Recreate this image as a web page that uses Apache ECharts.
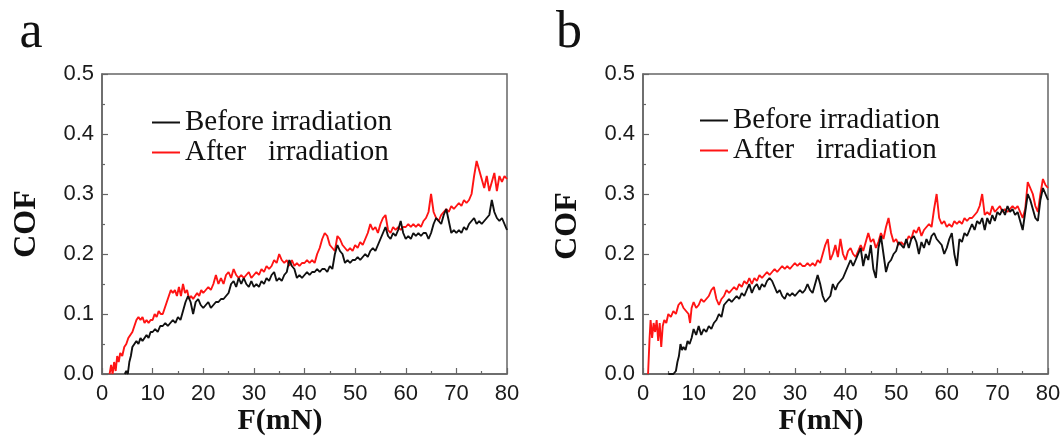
<!DOCTYPE html>
<html>
<head>
<meta charset="utf-8">
<script src="https://cdn.jsdelivr.net/npm/echarts/dist/echarts.min.js"></script>
<style>html,body{margin:0;padding:0;background:#fff;}#c{width:1064px;height:439px;}</style>
</head>
<body>
<div id="c"></div>
<script>
var xTicks = [0,10,20,30,40,50,60,70,80];
var yTicks = [0.0,0.1,0.2,0.3,0.4,0.5];
var seriesNames = ['Before irradiation','After   irradiation'];
var panelLabels = ['a','b'];
var xTitle = 'F(mN)';
var yTitle = 'COF';

var aAfter = [[1.5,0],[1.8,0.015],[2.1,0.0],[2.4,0.02],[2.7,0.005],[3.0,0.03],[3.3,0.02],[3.6,0.035],[4.0,0.03],[4.4,0.045],[4.8,0.05],[5.2,0.06],[5.6,0.065],[6.0,0.07],[6.4,0.08],[6.8,0.09],[7.2,0.095],[7.6,0.09],[8.0,0.095],[8.4,0.085],[8.8,0.09],[9.2,0.085],[9.6,0.09],[10.0,0.09],[10.4,0.1],[10.8,0.095],[11.2,0.105],[11.6,0.1],[12.0,0.1],[12.4,0.11],[12.8,0.12],[13.2,0.13],[13.6,0.14],[14.0,0.135],[14.4,0.14],[14.8,0.13],[15.2,0.145],[15.6,0.13],[16.0,0.15],[16.4,0.135],[16.8,0.14],[17.2,0.125],[17.6,0.13],[18.0,0.125],[18.4,0.13],[18.8,0.135],[19.2,0.13],[19.6,0.14],[20.0,0.135],[20.5,0.14],[21.0,0.145],[21.5,0.14],[22.0,0.15],[22.5,0.165],[23.0,0.15],[23.5,0.16],[24.0,0.15],[24.5,0.165],[25.0,0.17],[25.5,0.16],[26.0,0.175],[26.5,0.165],[27.0,0.16],[27.5,0.165],[28.0,0.16],[28.5,0.165],[29.0,0.17],[29.5,0.16],[30.0,0.165],[30.5,0.17],[31.0,0.165],[31.5,0.175],[32.0,0.17],[32.5,0.18],[33.0,0.175],[33.5,0.18],[34.0,0.19],[34.5,0.185],[35.0,0.2],[35.5,0.19],[36.0,0.185],[36.5,0.19],[37.0,0.18],[37.5,0.19],[38.0,0.18],[38.5,0.185],[39.0,0.18],[39.5,0.185],[40.0,0.185],[40.5,0.19],[41.0,0.185],[41.5,0.19],[42.0,0.185],[42.5,0.2],[43.0,0.21],[43.5,0.225],[44.0,0.235],[44.5,0.23],[45.0,0.215],[45.5,0.21],[46.0,0.205],[46.5,0.23],[47.0,0.225],[47.5,0.215],[48.0,0.21],[48.5,0.205],[49.0,0.21],[49.5,0.205],[50.0,0.215],[50.5,0.21],[51.0,0.22],[51.5,0.215],[52.0,0.225],[52.5,0.235],[53.0,0.25],[53.5,0.24],[54.0,0.245],[54.5,0.235],[55.0,0.25],[55.5,0.26],[56.0,0.265],[56.5,0.24],[57.0,0.235],[57.5,0.245],[58.0,0.24],[58.5,0.245],[59.0,0.24],[59.5,0.245],[60.0,0.245],[60.5,0.25],[61.0,0.245],[61.5,0.25],[62.0,0.245],[62.5,0.25],[63.0,0.245],[63.5,0.255],[64.0,0.26],[64.5,0.27],[65.0,0.3],[65.5,0.27],[66.0,0.26],[66.5,0.255],[67.0,0.265],[67.5,0.27],[68.0,0.275],[68.5,0.27],[69.0,0.28],[69.5,0.275],[70.0,0.28],[70.5,0.285],[71.0,0.28],[71.5,0.29],[72.0,0.285],[72.5,0.29],[73.0,0.3],[73.5,0.33],[74.0,0.355],[74.5,0.34],[75.0,0.325],[75.5,0.31],[76.0,0.33],[76.5,0.305],[77.0,0.32],[77.5,0.335],[78.0,0.305],[78.5,0.33],[79.0,0.32],[79.5,0.33],[80.0,0.325]];

var aBefore = [[4.5,0],[4.8,0.005],[5.1,0.0],[5.4,0.02],[5.7,0.03],[6.0,0.045],[6.4,0.05],[6.8,0.055],[7.2,0.05],[7.6,0.06],[8.0,0.055],[8.4,0.06],[8.8,0.065],[9.2,0.06],[9.6,0.07],[10.0,0.07],[10.5,0.075],[11.0,0.07],[11.5,0.08],[12.0,0.08],[12.5,0.085],[13.0,0.08],[13.5,0.085],[14.0,0.09],[14.5,0.085],[15.0,0.095],[15.5,0.09],[16.0,0.105],[16.5,0.12],[17.0,0.13],[17.5,0.12],[18.0,0.1],[18.5,0.12],[19.0,0.125],[19.5,0.115],[20.0,0.11],[20.5,0.115],[21.0,0.12],[21.5,0.11],[22.0,0.115],[22.5,0.12],[23.0,0.12],[23.5,0.125],[24.0,0.125],[24.5,0.13],[25.0,0.135],[25.5,0.15],[26.0,0.155],[26.5,0.145],[27.0,0.16],[27.5,0.15],[28.0,0.16],[28.5,0.15],[29.0,0.145],[29.5,0.155],[30.0,0.145],[30.5,0.15],[31.0,0.145],[31.5,0.155],[32.0,0.15],[32.5,0.16],[33.0,0.155],[33.5,0.165],[34.0,0.17],[34.5,0.155],[35.0,0.16],[35.5,0.155],[36.0,0.165],[36.5,0.17],[37.0,0.19],[37.5,0.18],[38.0,0.175],[38.5,0.16],[39.0,0.165],[39.5,0.16],[40.0,0.165],[40.5,0.17],[41.0,0.165],[41.5,0.17],[42.0,0.17],[42.5,0.175],[43.0,0.17],[43.5,0.175],[44.0,0.175],[44.5,0.17],[45.0,0.18],[45.5,0.175],[46.0,0.2],[46.5,0.215],[47.0,0.205],[47.5,0.2],[48.0,0.185],[48.5,0.19],[49.0,0.185],[49.5,0.19],[50.0,0.19],[50.5,0.195],[51.0,0.19],[51.5,0.195],[52.0,0.2],[52.5,0.195],[53.0,0.205],[53.5,0.21],[54.0,0.205],[54.5,0.215],[55.0,0.225],[55.5,0.235],[56.0,0.245],[56.5,0.23],[57.0,0.225],[57.5,0.235],[58.0,0.23],[58.5,0.24],[59.0,0.255],[59.5,0.235],[60.0,0.225],[60.5,0.23],[61.0,0.225],[61.5,0.235],[62.0,0.23],[62.5,0.235],[63.0,0.23],[63.5,0.235],[64.0,0.235],[64.5,0.225],[65.0,0.235],[65.5,0.25],[66.0,0.26],[66.5,0.255],[67.0,0.25],[67.5,0.265],[68.0,0.275],[68.5,0.255],[69.0,0.235],[69.5,0.24],[70.0,0.235],[70.5,0.24],[71.0,0.235],[71.5,0.245],[72.0,0.24],[72.5,0.25],[73.0,0.255],[73.5,0.26],[74.0,0.25],[74.5,0.255],[75.0,0.25],[75.5,0.255],[76.0,0.26],[76.5,0.265],[77.0,0.29],[77.5,0.27],[78.0,0.26],[78.5,0.255],[79.0,0.26],[79.5,0.25],[80.0,0.24]];

var bAfter = [[1.0,0],[1.3,0.06],[1.5,0.09],[1.8,0.06],[2.1,0.085],[2.4,0.07],[2.7,0.09],[3.0,0.055],[3.3,0.085],[3.6,0.045],[3.9,0.08],[4.2,0.09],[4.6,0.085],[5.0,0.1],[5.5,0.095],[6.0,0.105],[6.5,0.1],[7.0,0.115],[7.5,0.12],[8.0,0.11],[8.5,0.105],[9.0,0.1],[9.3,0.085],[9.6,0.11],[10.0,0.12],[10.5,0.11],[11.0,0.115],[11.5,0.125],[12.0,0.12],[12.5,0.125],[13.0,0.13],[13.5,0.14],[14.0,0.145],[14.5,0.125],[15.0,0.115],[15.5,0.125],[16.0,0.13],[16.5,0.14],[17.0,0.135],[17.5,0.14],[18.0,0.145],[18.5,0.14],[19.0,0.15],[19.5,0.145],[20.0,0.155],[20.5,0.15],[21.0,0.16],[21.5,0.15],[22.0,0.16],[22.5,0.155],[23.0,0.165],[23.5,0.16],[24.0,0.165],[24.5,0.17],[25.0,0.165],[25.5,0.17],[26.0,0.175],[26.5,0.17],[27.0,0.175],[27.5,0.18],[28.0,0.175],[28.5,0.18],[29.0,0.175],[29.5,0.18],[30.0,0.185],[30.5,0.18],[31.0,0.185],[31.5,0.18],[32.0,0.18],[32.5,0.185],[33.0,0.18],[33.5,0.185],[34.0,0.18],[34.5,0.19],[35.0,0.185],[35.5,0.2],[36.0,0.215],[36.5,0.225],[37.0,0.19],[37.5,0.2],[38.0,0.215],[38.5,0.195],[39.0,0.225],[39.5,0.2],[40.0,0.19],[40.5,0.205],[41.0,0.21],[41.5,0.2],[42.0,0.195],[42.5,0.205],[43.0,0.215],[43.5,0.205],[44.0,0.22],[44.5,0.235],[45.0,0.22],[45.5,0.225],[46.0,0.21],[46.5,0.22],[47.0,0.235],[47.5,0.225],[48.0,0.245],[48.5,0.26],[49.0,0.235],[49.5,0.22],[50.0,0.225],[50.5,0.215],[51.0,0.22],[51.5,0.215],[52.0,0.22],[52.5,0.23],[53.0,0.225],[53.5,0.24],[54.0,0.235],[54.5,0.245],[55.0,0.23],[55.5,0.24],[56.0,0.245],[56.5,0.25],[57.0,0.245],[57.5,0.275],[58.0,0.3],[58.5,0.26],[59.0,0.25],[59.5,0.255],[60.0,0.245],[60.5,0.25],[61.0,0.245],[61.5,0.255],[62.0,0.25],[62.5,0.255],[63.0,0.25],[63.5,0.26],[64.0,0.255],[64.5,0.26],[65.0,0.26],[65.5,0.265],[66.0,0.27],[66.5,0.28],[67.0,0.3],[67.5,0.265],[68.0,0.27],[68.5,0.265],[69.0,0.28],[69.5,0.27],[70.0,0.275],[70.5,0.28],[71.0,0.27],[71.5,0.275],[72.0,0.27],[72.5,0.275],[73.0,0.28],[73.5,0.275],[74.0,0.28],[74.5,0.27],[75.0,0.26],[75.5,0.275],[76.0,0.32],[76.5,0.31],[77.0,0.3],[77.5,0.28],[78.0,0.27],[78.5,0.3],[79.0,0.325],[79.5,0.315],[80.0,0.31]];

var bBefore = [[5.0,0],[5.5,0.0],[6.0,0.0],[6.5,0.005],[6.8,0.02],[7.1,0.03],[7.4,0.05],[7.7,0.04],[8.0,0.045],[8.4,0.04],[8.8,0.055],[9.2,0.05],[9.6,0.06],[10.0,0.075],[10.5,0.065],[11.0,0.08],[11.5,0.065],[12.0,0.075],[12.5,0.07],[13.0,0.08],[13.5,0.075],[14.0,0.085],[14.5,0.09],[15.0,0.1],[15.5,0.095],[16.0,0.115],[16.5,0.12],[17.0,0.125],[17.5,0.12],[18.0,0.125],[18.5,0.13],[19.0,0.125],[19.5,0.135],[20.0,0.13],[20.5,0.14],[21.0,0.15],[21.5,0.135],[22.0,0.145],[22.5,0.15],[23.0,0.14],[23.5,0.15],[24.0,0.145],[24.5,0.155],[25.0,0.16],[25.5,0.155],[26.0,0.145],[26.5,0.135],[27.0,0.14],[27.5,0.13],[28.0,0.125],[28.5,0.135],[29.0,0.13],[29.5,0.135],[30.0,0.13],[30.5,0.135],[31.0,0.14],[31.5,0.135],[32.0,0.14],[32.5,0.15],[33.0,0.14],[33.5,0.135],[34.0,0.15],[34.5,0.165],[35.0,0.15],[35.5,0.13],[36.0,0.12],[36.5,0.125],[37.0,0.13],[37.5,0.15],[38.0,0.14],[38.5,0.15],[39.0,0.155],[39.5,0.16],[40.0,0.17],[40.5,0.18],[41.0,0.19],[41.5,0.18],[42.0,0.19],[42.5,0.2],[43.0,0.21],[43.5,0.18],[44.0,0.2],[44.5,0.19],[45.0,0.215],[45.5,0.175],[46.0,0.16],[46.5,0.21],[47.0,0.23],[47.5,0.2],[48.0,0.17],[48.5,0.185],[49.0,0.19],[49.5,0.2],[50.0,0.205],[50.5,0.22],[51.0,0.215],[51.5,0.21],[52.0,0.225],[52.5,0.21],[53.0,0.225],[53.5,0.23],[54.0,0.22],[54.5,0.2],[55.0,0.22],[55.5,0.21],[56.0,0.225],[56.5,0.215],[57.0,0.23],[57.5,0.235],[58.0,0.225],[58.5,0.22],[59.0,0.215],[59.5,0.2],[60.0,0.21],[60.5,0.225],[61.0,0.235],[61.5,0.2],[62.0,0.18],[62.5,0.225],[63.0,0.22],[63.5,0.235],[64.0,0.23],[64.5,0.24],[65.0,0.25],[65.5,0.24],[66.0,0.255],[66.5,0.25],[67.0,0.26],[67.5,0.24],[68.0,0.26],[68.5,0.25],[69.0,0.265],[69.5,0.255],[70.0,0.27],[70.5,0.265],[71.0,0.275],[71.5,0.265],[72.0,0.28],[72.5,0.27],[73.0,0.275],[73.5,0.265],[74.0,0.27],[74.5,0.255],[75.0,0.24],[75.5,0.27],[76.0,0.3],[76.5,0.29],[77.0,0.275],[77.5,0.26],[78.0,0.255],[78.5,0.29],[79.0,0.31],[79.5,0.3],[80.0,0.29]];

var SERIF = '"Liberation Serif", "Times New Roman", serif';
var SANS = '"Liberation Sans", Arial, sans-serif';
var AXC = '#666';

function xAxis(gi){
  return {type:'value', gridIndex:gi, min:xTicks[0], max:xTicks[xTicks.length-1], interval:10,
    axisLine:{show:true, onZero:false, lineStyle:{color:AXC, width:1.5}},
    axisTick:{show:true, inside:true, length:6, lineStyle:{color:AXC, width:1.2}},
    minorTick:{show:true, splitNumber:2, length:3, lineStyle:{color:AXC, width:1.2}},
    splitLine:{show:false},
    axisLabel:{fontFamily:SANS, fontSize:22, color:'#1a1a1a', margin:9}};
}
function yAxis(gi){
  return {type:'value', gridIndex:gi, min:yTicks[0], max:yTicks[yTicks.length-1], interval:0.1,
    axisLine:{show:true, onZero:false, lineStyle:{color:AXC, width:1.5}},
    axisTick:{show:true, inside:true, length:6, lineStyle:{color:AXC, width:1.2}},
    minorTick:{show:true, splitNumber:2, length:3, lineStyle:{color:AXC, width:1.2}},
    splitLine:{show:false},
    axisLabel:{fontFamily:SANS, fontSize:22, color:'#1a1a1a', margin:8,
      formatter:function(v){return v.toFixed(1);}}};
}
function line(name, data, gi, color){
  return {type:'line', name:name, xAxisIndex:gi, yAxisIndex:gi, data:data,
    showSymbol:false, symbol:'none', animation:false,
    lineStyle:{color:color, width:1.9}, itemStyle:{color:color}};
}
function legend(left, top){
  return {orient:'vertical', left:left, top:top, icon:'rect', itemWidth:28, itemHeight:2, itemGap:1,
    data:[seriesNames[0], seriesNames[1]],
    textStyle:{fontFamily:SERIF, fontSize:29, color:'#111', lineHeight:28}};
}
function txt(t, x, y, size, bold, rot){
  return {type:'text', x:x, y:y, rotation:rot||0,
    style:{text:t, font:(bold?'bold ':'')+size+'px '+SERIF, fill:'#111',
      textAlign:'center', textVerticalAlign:'middle'}};
}

var RED = '#ff1414', BLACK = '#111111';
var option = {
  backgroundColor:'#fff',
  animation:false,
  grid:[
    {left:102, top:74, width:405, height:300, show:true, borderColor:AXC, borderWidth:1.5},
    {left:643, top:74, width:405, height:300, show:true, borderColor:AXC, borderWidth:1.5}
  ],
  xAxis:[xAxis(0), xAxis(1)],
  yAxis:[yAxis(0), yAxis(1)],
  legend:[legend(147,103), legend(695,101)],
  series:[
    line(seriesNames[1], aAfter, 0, RED),
    line(seriesNames[0], aBefore, 0, BLACK),
    line(seriesNames[1], bAfter, 1, RED),
    line(seriesNames[0], bBefore, 1, BLACK)
  ],
  graphic:[
    txt(panelLabels[0], 31, 33, 52, false),
    txt(panelLabels[1], 569, 33, 52, false),
    txt(yTitle, 27, 224, 32, true, Math.PI/2),
    txt(yTitle, 568, 226, 32, true, Math.PI/2),
    txt(xTitle, 280, 421, 30, true),
    txt(xTitle, 821, 421, 30, true)
  ]
};
var chart = echarts.init(document.getElementById('c'), null, {renderer:'canvas'});
chart.setOption(option);
</script>
</body>
</html>
